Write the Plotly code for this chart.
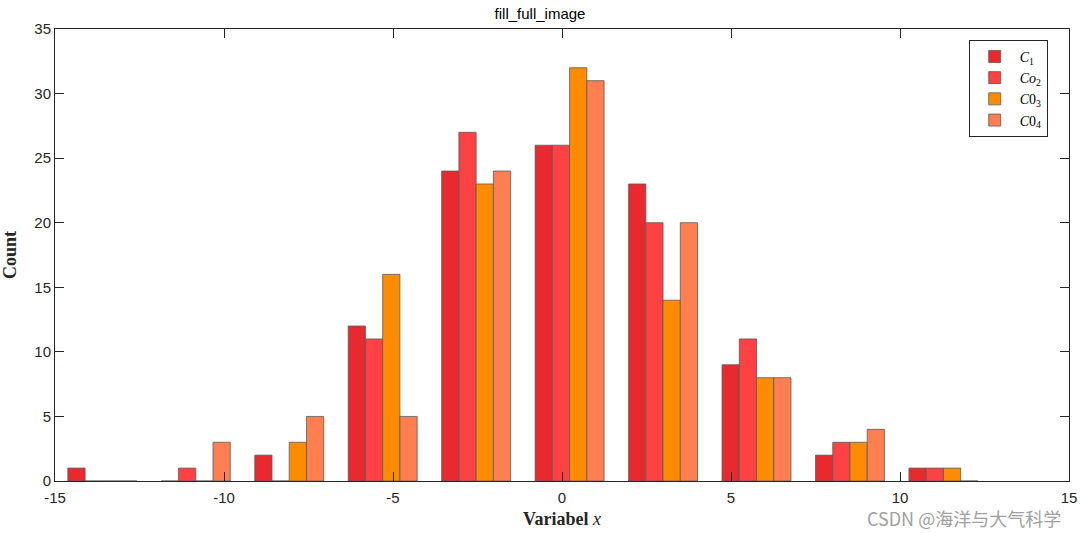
import plotly.graph_objects as go

# bin centres of the grouped histogram
centres = [-13.6, -10.835, -8.07, -5.305, -2.54, 0.225, 2.99, 5.755, 8.52, 11.285]

c1 = [1, 0, 2, 12, 24, 26, 23, 9, 2, 1]
co2 = [0, 1, 0, 11, 27, 26, 20, 11, 3, 1]
c03 = [0, 0, 3, 16, 23, 32, 14, 8, 3, 1]
c04 = [0, 3, 5, 5, 24, 31, 20, 8, 4, 0]

x_ticks = [-15, -10, -5, 0, 5, 10, 15]
x_ticktext = ["-15", "-10", "-5", "0", "5", "10", "15"]
y_ticks = [0, 5, 10, 15, 20, 25, 30, 35]

series_names = ["<i>C</i><sub>1</sub>", "<i>Co</i><sub>2</sub>",
                "<i>C</i>0<sub>3</sub>", "<i>C</i>0<sub>4</sub>"]
series_vals = [c1, co2, c03, c04]
colors = ["#e8292d", "#fe4143", "#ff8c00", "#ff7f50"]

bar_w = 0.51
fig = go.Figure()
for i, (name, vals, col) in enumerate(zip(series_names, series_vals, colors)):
    fig.add_trace(go.Bar(
        x=centres, y=vals, name=name,
        width=bar_w, offset=-2 * bar_w + i * bar_w,
        marker=dict(color=col, line=dict(color="#5a5a5a", width=0.8)),
    ))

axis_common = dict(
    showline=True, linecolor="#262626", linewidth=1, mirror="allticks",
    ticks="inside", ticklen=9, tickcolor="#262626", showgrid=False,
    zeroline=False, automargin=False,
    tickfont=dict(family="Liberation Sans, Arial", size=15, color="#262626"),
)

fig.update_layout(
    barmode="overlay",
    width=1080, height=533,
    margin=dict(l=55, r=11, t=29, b=52),
    paper_bgcolor="white", plot_bgcolor="white",
    title=dict(text="fill_full_image", x=0.5, xanchor="center", y=0.975, yanchor="middle",
               font=dict(family="Liberation Sans, Arial", size=15, color="#000000")),
    xaxis=dict(range=[-15, 15], tickvals=x_ticks, ticktext=x_ticktext, ticklabelstandoff=3,
               title=dict(text="<b>Variabel</b> <i>x</i>", standoff=7,
                          font=dict(family="Liberation Serif, DejaVu Serif", size=18, color="#262626")),
               **axis_common),
    yaxis=dict(range=[0, 35], tickvals=y_ticks,
               title=dict(text="<b>Count</b>", standoff=28,
                          font=dict(family="Liberation Serif, DejaVu Serif", size=18, color="#262626")),
               **axis_common),
    legend=dict(x=0.979, y=0.976, xanchor="right", yanchor="top",
                bgcolor="white", bordercolor="#262626", borderwidth=1,
                font=dict(family="Liberation Serif, DejaVu Serif", size=14, color="#000000"),
                itemwidth=40, tracegroupgap=0),
    showlegend=True,
)

fig.add_annotation(
    text="CSDN @海洋与大气科学", xref="paper", yref="paper",
    x=0.994, y=-0.082, xanchor="right", yanchor="middle", showarrow=False,
    font=dict(family="Noto Sans CJK SC, Liberation Sans", size=18, color="#a0a0a0"),
)

fig.write_html("out.html", config={"displayModeBar": False},
               post_script="document.body.style.margin='0';")
